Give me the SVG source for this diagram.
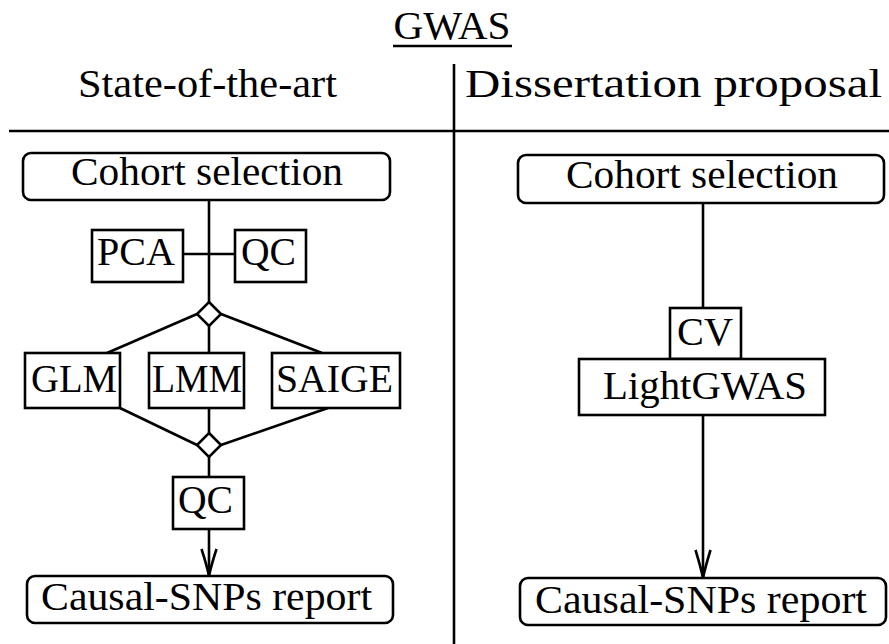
<svg xmlns="http://www.w3.org/2000/svg" width="889" height="644" viewBox="0 0 889 644">
<defs>
<style>
text{font-family:"Liberation Serif","DejaVu Serif",serif;font-size:41px;fill:#000;text-anchor:middle}
.b{fill:#fff;stroke:#000;stroke-width:2.6}
.l{fill:none;stroke:#000;stroke-width:2.6}
</style>
</defs>
<rect width="889" height="644" fill="#fff"/>
<g id="header">
<text x="452" y="39" textLength="117" lengthAdjust="spacingAndGlyphs">GWAS</text>
<line class="l" x1="393" y1="46" x2="512" y2="46"/>
<line class="l" x1="454" y1="64" x2="454" y2="644"/>
<line class="l" x1="9" y1="131" x2="889" y2="131"/>
<text x="207.5" y="97" textLength="259" lengthAdjust="spacingAndGlyphs">State-of-the-art</text>
<text x="673.5" y="97" textLength="417" lengthAdjust="spacingAndGlyphs">Dissertation proposal</text>
</g>
<g id="connectors">
<line class="l" x1="209" y1="200" x2="209" y2="302"/>
<line class="l" x1="183" y1="254" x2="235" y2="254"/>
<line class="l" x1="197" y1="314" x2="107" y2="353"/>
<line class="l" x1="209" y1="326" x2="209" y2="353"/>
<line class="l" x1="221" y1="314" x2="322" y2="353"/>
<line class="l" x1="120" y1="408" x2="197" y2="445"/>
<line class="l" x1="209" y1="408" x2="209" y2="433"/>
<line class="l" x1="328" y1="408" x2="221" y2="445"/>
<line class="l" x1="209" y1="457" x2="209" y2="477"/>
<line class="l" x1="209" y1="529" x2="209" y2="576"/>
<path class="l" d="M201.5,549 Q207,566 209,576 Q211,566 216.5,549"/>
<line class="l" x1="703" y1="203" x2="703" y2="308"/>
<line class="l" x1="703" y1="415" x2="703" y2="578"/>
<path class="l" d="M695.5,550 Q701,568 703,578 Q705,568 710.5,550"/>
</g>
<g id="cohort-left"><rect class="b" x="23" y="153" width="367" height="47" rx="8"/><text x="207" y="185" textLength="272" lengthAdjust="spacingAndGlyphs">Cohort selection</text></g>
<g id="pca"><rect class="b" x="92" y="230" width="91" height="52"/><text x="136" y="265" textLength="78" lengthAdjust="spacingAndGlyphs">PCA</text></g>
<g id="qc1"><rect class="b" x="235" y="230" width="71" height="52"/><text x="268.5" y="265" textLength="55" lengthAdjust="spacingAndGlyphs">QC</text></g>
<g id="split"><path class="b" d="M209,302 L221,314 L209,326 L197,314 Z"/></g>
<g id="glm"><rect class="b" x="25" y="353" width="95" height="55"/><text x="74" y="392" textLength="86" lengthAdjust="spacingAndGlyphs">GLM</text></g>
<g id="lmm"><rect class="b" x="149" y="353" width="95" height="55"/><text x="197" y="392" textLength="90" lengthAdjust="spacingAndGlyphs">LMM</text></g>
<g id="saige"><rect class="b" x="272" y="353" width="128" height="55"/><text x="334.5" y="392" textLength="117" lengthAdjust="spacingAndGlyphs">SAIGE</text></g>
<g id="merge"><path class="b" d="M209,433 L221,445 L209,457 L197,445 Z"/></g>
<g id="qc2"><rect class="b" x="173" y="477" width="71" height="52"/><text x="205.5" y="513" textLength="55" lengthAdjust="spacingAndGlyphs">QC</text></g>
<g id="report-left"><rect class="b" x="27" y="576" width="366" height="47" rx="8"/><text x="206.5" y="610" textLength="331" lengthAdjust="spacingAndGlyphs">Causal-SNPs report</text></g>
<g id="cohort-right"><rect class="b" x="518" y="155" width="366" height="48" rx="8"/><text x="702" y="188" textLength="272" lengthAdjust="spacingAndGlyphs">Cohort selection</text></g>
<g id="cv"><rect class="b" x="670" y="308" width="71" height="51"/><text x="705" y="345" textLength="56" lengthAdjust="spacingAndGlyphs">CV</text></g>
<g id="lightgwas"><rect class="b" x="579" y="359" width="246" height="56"/><text x="705" y="399" textLength="204" lengthAdjust="spacingAndGlyphs">LightGWAS</text></g>
<g id="report-right"><rect class="b" x="520" y="578" width="366" height="47" rx="8"/><text x="701" y="613" textLength="332" lengthAdjust="spacingAndGlyphs">Causal-SNPs report</text></g>
</svg>
